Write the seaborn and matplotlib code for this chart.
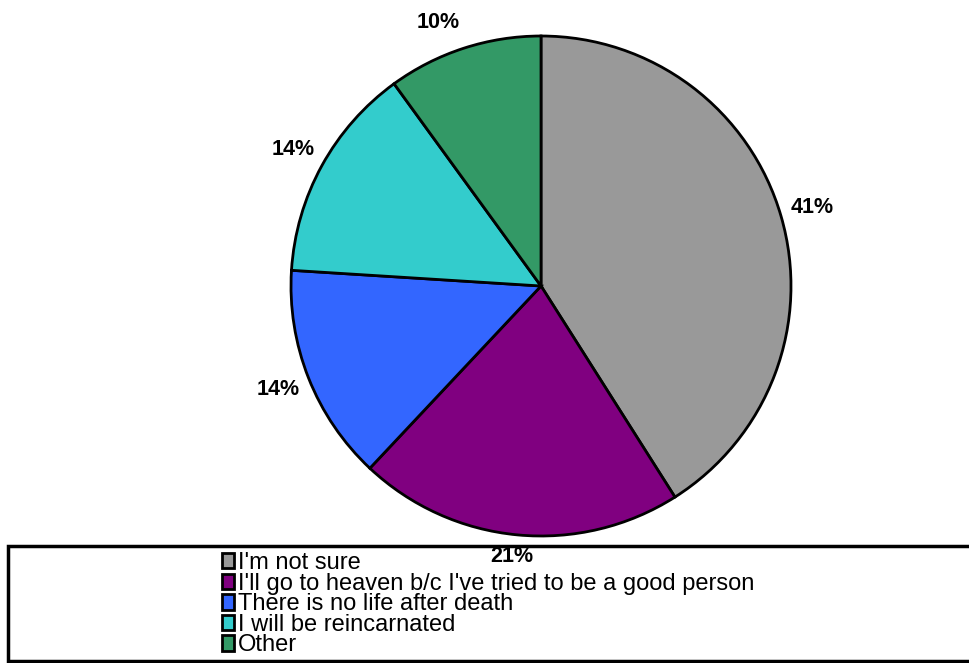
import matplotlib
matplotlib.use('Agg')
import matplotlib.pyplot as plt
from matplotlib.patches import Rectangle
import seaborn as sns

# data
answers = [
    "I'm not sure",
    "I'll go to heaven b/c I've tried to be a good person",
    "There is no life after death",
    "I will be reincarnated",
    "Other",
]
shares = [41, 21, 14, 14, 10]
slice_colors = ['#999999', '#800080', '#3366FF', '#33CCCC', '#339966']

W, H = 969, 663
DPI = 100

sns.set_theme(style='white')
plt.rcParams['font.family'] = ['Liberation Sans', 'DejaVu Sans']
plt.rcParams['text.color'] = 'black'

fig = plt.figure(figsize=(W / DPI, H / DPI), dpi=DPI)
fig.patch.set_facecolor('white')

# pie centre (541, 286) px from top-left, radius 250 px
cx, cy, r = 541, 286, 250
ax = fig.add_axes([(cx - r) / W, (H - cy - r) / H, 2 * r / W, 2 * r / H])
ax.set_zorder(3)
wedges, _, pct_texts = ax.pie(
    shares, colors=slice_colors, startangle=90, counterclock=False,
    autopct='%.0f%%', pctdistance=1.13, radius=1,
    wedgeprops=dict(edgecolor='black', linewidth=2),
    textprops=dict(fontsize=15.5, fontweight='bold', color='black'),
)
for t in pct_texts:
    t.set_clip_on(False)
# Excel nudged these two labels
pct_texts[1].set_position((-0.116, -1.08))
pct_texts[4].set_position((-0.41, 1.055))
ax.set_xlim(-1, 1)
ax.set_ylim(-1, 1)
ax.set_aspect('equal')
ax.axis('off')

# legend box along the bottom
box = Rectangle((8 / W, 0.003), 1.2, (H - 548) / H, transform=fig.transFigure,
                facecolor='white', edgecolor='black', linewidth=2.5,
                clip_on=False, zorder=0)
fig.patches.append(box)

leg = fig.legend(
    wedges, answers, loc='upper left',
    bbox_to_anchor=(222 / W, (H - 552) / H),
    frameon=False, fontsize=17, borderaxespad=0, borderpad=0,
    labelspacing=-0.06, handlelength=0.52, handleheight=0.62,
    handletextpad=0.15,
)
leg.set_zorder(2)
for txt in leg.get_texts():
    txt.set_color('black')
for h in leg.legend_handles:
    h.set_edgecolor('black')
    h.set_linewidth(2)

fig.savefig('out.png', dpi=DPI)
